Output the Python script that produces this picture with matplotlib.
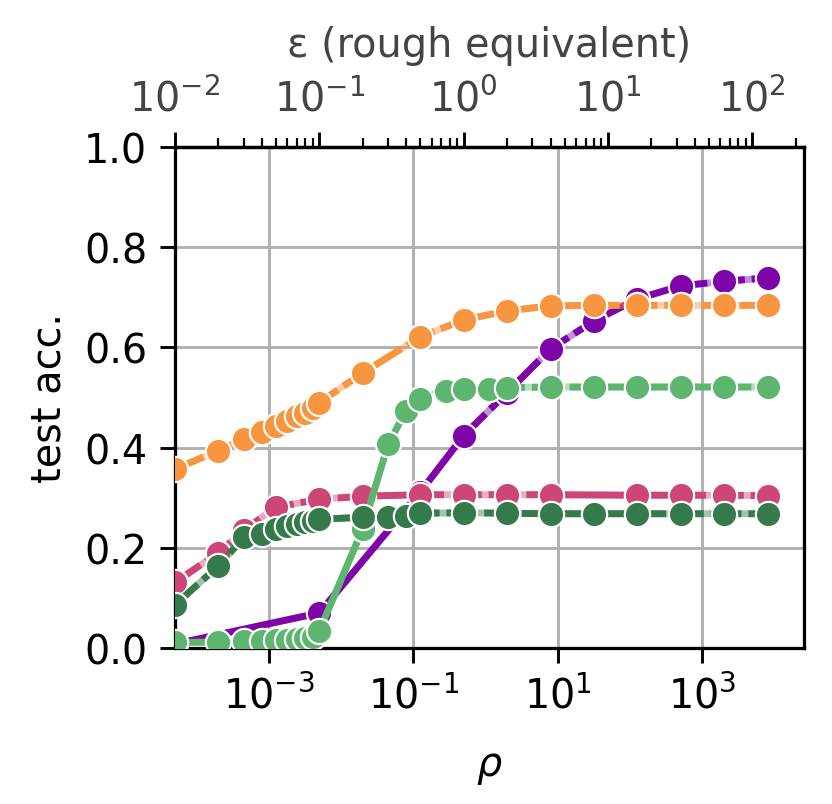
import numpy as np
import matplotlib
matplotlib.use("Agg")
import matplotlib.pyplot as plt
from matplotlib.ticker import FixedLocator, NullLocator, LogFormatterSciNotation, LogLocator

# ---------------- data (epsilon grid, test accuracy) ----------------
fine_eps = [0.01, 0.02, 0.03, 0.04, 0.05, 0.06, 0.07, 0.08, 0.09, 0.1]

orange_eps = fine_eps + [0.2, 0.5, 1, 2, 4, 8, 16, 32, 64, 128]
orange_acc = [0.357, 0.394, 0.417, 0.432, 0.444, 0.454, 0.464, 0.470, 0.480, 0.490,
              0.549, 0.621, 0.655, 0.673, 0.683, 0.684, 0.684, 0.684, 0.684, 0.684]

pink_eps = [0.01, 0.02, 0.03, 0.05, 0.1, 0.2, 0.5, 1, 2, 4, 16, 32, 64, 128]
pink_acc = [0.131, 0.190, 0.235, 0.281, 0.297, 0.303, 0.306, 0.306, 0.306, 0.306,
            0.305, 0.305, 0.305, 0.304]

purple_eps = [0.01, 0.1, 0.5, 1, 2, 4, 8, 16, 32, 64, 128]
purple_acc = [0.008, 0.070, 0.311, 0.424, 0.510, 0.597, 0.653, 0.697, 0.723, 0.732, 0.739]

ltgreen_eps = fine_eps + [0.2, 0.3, 0.4, 0.5, 0.75, 1, 1.5, 2, 4, 8, 16, 32, 64, 128]
ltgreen_acc = [0.011, 0.012, 0.013, 0.014, 0.015, 0.016, 0.017, 0.019, 0.022, 0.034,
               0.238, 0.407, 0.474, 0.497, 0.514, 0.518, 0.518, 0.520, 0.521, 0.521,
               0.521, 0.521, 0.521, 0.521]

dkgreen_eps = fine_eps + [0.2, 0.3, 0.4, 0.5, 1, 2, 4, 8, 16, 32, 64, 128]
dkgreen_acc = [0.086, 0.164, 0.221, 0.228, 0.238, 0.244, 0.248, 0.251, 0.254, 0.257,
               0.261, 0.261, 0.264, 0.269, 0.270, 0.269, 0.268, 0.268, 0.268, 0.268,
               0.268, 0.268]

# eps ranges drawn as solid (rather than dashed) line
purple_solid = (0.01, 1)
ltgreen_solid = (0.1, 0.5)
pink_solid = (4, 16)

x_ticks = [1e-3, 1e-1, 1e1, 1e3]
eps_ticks = [1e-2, 1e-1, 1e0, 1e1, 1e2]
y_ticks = [0.0, 0.2, 0.4, 0.6, 0.8, 1.0]


def eps_to_rho(e):
    return np.asarray(e, dtype=float) ** 2 / 2.0


def rho_to_eps(r):
    r = np.asarray(r, dtype=float)
    return np.sqrt(2.0 * np.clip(r, 1e-300, None))


plt.rcParams["font.family"] = ["DejaVu Sans"]
plt.rcParams["font.size"] = 11
plt.rcParams["xtick.major.size"] = 4.2
plt.rcParams["ytick.major.size"] = 4.2
plt.rcParams["xtick.minor.size"] = 2.4

fig = plt.figure(figsize=(3.2, 3.096), dpi=260)
ax = fig.add_axes([0.2103, 0.1938, 0.7560, 0.6223])

LW = 1.9
MS = 7.0
MEW = 0.6
DASH = (4.5, 1.0)

series = [
    (purple_eps, purple_acc, "#7e03a8", purple_solid),
    (pink_eps, pink_acc, "#cc4778", pink_solid),
    (orange_eps, orange_acc, "#f89540", None),
    (ltgreen_eps, ltgreen_acc, "#5db56f", ltgreen_solid),
    (dkgreen_eps, dkgreen_acc, "#357a4a", None),
]

z = 3
for eps, acc, col, solid in series:
    rho = eps_to_rho(eps)
    acc = np.asarray(acc)
    e = np.asarray(eps, dtype=float)
    ax.plot(rho, acc, color=col, lw=LW, alpha=0.45, solid_capstyle="butt", zorder=z)
    if solid is not None:
        m_solid = (e >= solid[0]) & (e <= solid[1])
        m_left = e <= solid[0]
        m_right = e >= solid[1]
        for m in (m_left, m_right):
            if m.sum() >= 2:
                ax.plot(rho[m], acc[m], color=col, lw=LW, dashes=DASH,
                        dash_capstyle="butt", zorder=z + 0.1)
        ax.plot(rho[m_solid], acc[m_solid], color=col, lw=LW, zorder=z + 0.1)
    else:
        ax.plot(rho, acc, color=col, lw=LW, dashes=DASH, dash_capstyle="butt",
                zorder=z + 0.1)
    ax.plot(rho, acc, "o", ms=MS, mfc=col, mec="white", mew=MEW, zorder=z + 0.2)
    z += 1

ax.set_xscale("log")
ax.set_xlim(5e-5, 2.6e4)
ax.set_ylim(0, 1)
ax.xaxis.set_major_locator(FixedLocator(x_ticks))
ax.xaxis.set_major_formatter(LogFormatterSciNotation())
ax.xaxis.set_minor_locator(NullLocator())
ax.set_yticks(y_ticks)
ax.set_yticklabels([f"{v:.1f}" for v in y_ticks])
ax.grid(True, color="#b0b0b0", lw=0.8)
ax.set_axisbelow(True)
ax.set_xlabel(r"$\rho$", labelpad=8)
ax.set_ylabel("test acc.")
for s in ax.spines.values():
    s.set_color("black")
    s.set_linewidth(0.9)

sec = ax.secondary_xaxis("top", functions=(rho_to_eps, eps_to_rho))
sec.xaxis.set_major_locator(FixedLocator(eps_ticks))
sec.xaxis.set_major_formatter(LogFormatterSciNotation())
sec.xaxis.set_minor_locator(LogLocator(base=10, subs=np.arange(2, 10), numticks=20))
sec.set_xlabel("ε (rough equivalent)", color="#444444", labelpad=6)
sec.tick_params(axis="x", which="both", colors="black")
sec.tick_params(axis="x", which="major", labelcolor="#444444")
for s in sec.spines.values():
    s.set_linewidth(0.9)

fig.savefig("out.png", dpi=260)
